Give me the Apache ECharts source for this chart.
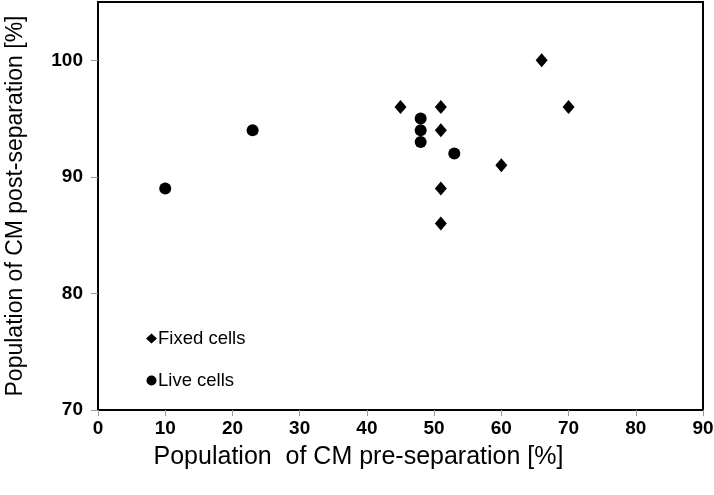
<!DOCTYPE html>
<html><head><meta charset="utf-8">
<script src="https://cdn.jsdelivr.net/npm/echarts@6/dist/echarts.min.js"></script>
<style>html,body{margin:0;padding:0;background:#fff}#c{width:714px;height:495px}</style>
</head><body><div id="c"></div>
<script>
const fixedX = [45, 51, 51, 51, 51, 60, 66, 70];
const fixedY = [96, 96, 94, 89, 86, 91, 100, 96];
const liveX = [10, 23, 48, 48, 48, 53];
const liveY = [89, 94, 95, 94, 93, 92];
const xTicks = [0, 10, 20, 30, 40, 50, 60, 70, 80, 90];
const yTicks = [70, 80, 90, 100];

const zip = (a, b) => a.map((v, i) => [v, b[i]]);
const chart = echarts.init(document.getElementById('c'));
const F = 'Liberation Sans, Arial, sans-serif';
chart.setOption({
  animation: false,
  grid: { left: 98, right: 11, top: 2, bottom: 85, show: true, borderColor: '#000', borderWidth: 2,
    containLabel: false, outerBoundsMode: 'none' },
  legend: {
    orient: 'vertical', left: 141, top: 324, itemGap: 23, itemWidth: 11, itemHeight: 10,
    textStyle: { fontFamily: F, fontSize: 18.5, color: '#000', padding: [0, 0, 0, -4] },
    data: [{ name: 'Fixed cells', icon: 'diamond' }, { name: 'Live cells', icon: 'circle' }]
  },
  xAxis: {
    type: 'value', min: 0, max: 90, interval: 10,
    name: 'Population  of CM pre-separation [%]', nameLocation: 'middle', nameGap: 35,
    nameTextStyle: { fontFamily: F, fontSize: 25, color: '#000', padding: [0, 84, 0, 0] },
    axisLine: { lineStyle: { color: '#000', width: 2 } },
    axisTick: { show: true, length: 6, customValues: xTicks, lineStyle: { color: '#999' } },
    axisLabel: { fontFamily: F, fontSize: 19, fontWeight: 'bold', color: '#000', margin: 9, customValues: xTicks },
    splitLine: { show: false }
  },
  yAxis: {
    type: 'value', min: 70, max: 105, interval: 10,
    name: 'Population of CM post-separation [%]', nameLocation: 'middle', nameGap: 71,
    nameTextStyle: { fontFamily: F, fontSize: 23, color: '#000' },
    axisLine: { lineStyle: { color: '#000', width: 2 } },
    axisTick: { show: true, length: 7, customValues: yTicks, lineStyle: { color: '#999' } },
    axisLabel: { fontFamily: F, fontSize: 19, fontWeight: 'bold', color: '#000', margin: 15, customValues: yTicks },
    splitLine: { show: false }
  },
  series: [
    { name: 'Fixed cells', type: 'scatter', symbol: 'diamond', symbolSize: [12, 14],
      itemStyle: { color: '#000', opacity: 1 }, data: zip(fixedX, fixedY) },
    { name: 'Live cells', type: 'scatter', symbol: 'circle', symbolSize: 12,
      itemStyle: { color: '#000', opacity: 1 }, data: zip(liveX, liveY) }
  ]
});
</script></body></html>
